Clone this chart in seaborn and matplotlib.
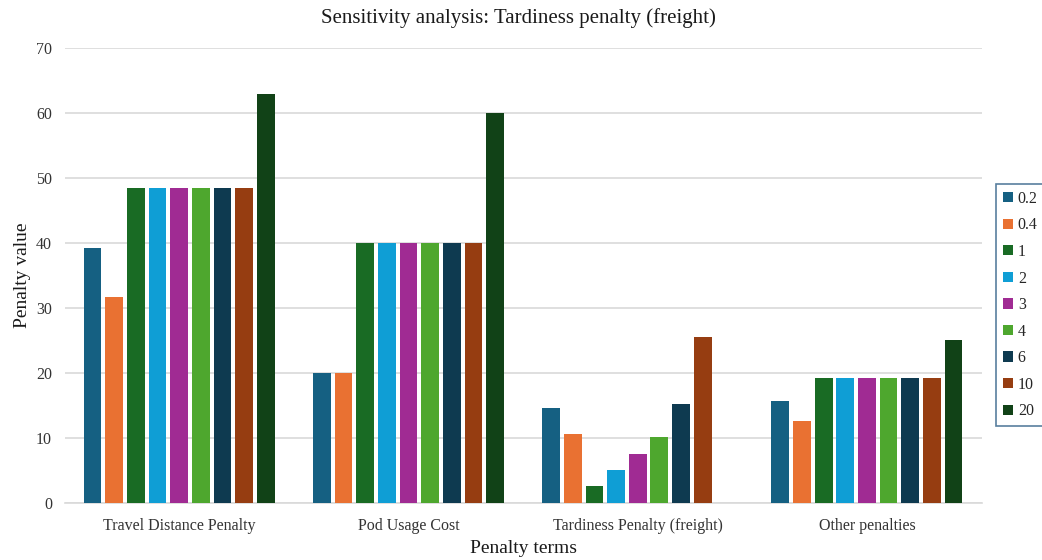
import numpy as np
import pandas as pd
import matplotlib
matplotlib.use("Agg")
import matplotlib.pyplot as plt
import seaborn as sns

# Penalty terms on the x axis
terms = ["Travel Distance Penalty", "Pod Usage Cost",
         "Tardiness Penalty (freight)", "Other penalties"]

# Tardiness-penalty weights (legend entries)
weights = ["0.2", "0.4", "1", "2", "3", "4", "6", "10", "20"]

# Penalty values per weight, one entry per term (NaN = not shown)
vals_0_2 = [39.3, 20.0, 14.6, 15.7]
vals_0_4 = [31.7, 20.0, 10.6, 12.6]
vals_1 = [48.4, 40.0, 2.6, 19.3]
vals_2 = [48.4, 40.0, 5.1, 19.3]
vals_3 = [48.4, 40.0, 7.6, 19.3]
vals_4 = [48.4, 40.0, 10.2, 19.3]
vals_6 = [48.4, 40.0, 15.2, 19.3]
vals_10 = [48.4, 40.0, 25.5, 19.3]
vals_20 = [62.9, 60.0, np.nan, 25.1]

series = [vals_0_2, vals_0_4, vals_1, vals_2, vals_3,
          vals_4, vals_6, vals_10, vals_20]

colors = ["#156082", "#E97132", "#196B24", "#0F9ED5", "#A02B93",
          "#4EA72E", "#0E3A50", "#963D11", "#114217"]

rows = []
for w, vals in zip(weights, series):
    for t, v in zip(terms, vals):
        if not np.isnan(v):
            rows.append({"term": t, "weight": w, "value": v})
df = pd.DataFrame(rows)

sns.set_theme(style="white")
plt.rcParams["font.family"] = ["Liberation Serif", "DejaVu Serif"]

fig = plt.figure(figsize=(10.42, 5.6), dpi=100)
ax = fig.add_axes([0.062, 0.102, 0.880, 0.812])

sns.barplot(data=df, x="term", y="value", hue="weight",
            order=terms, hue_order=weights, palette=colors,
            saturation=1, width=0.85, gap=0.18, errorbar=None, ax=ax,
            edgecolor="none", zorder=3)

ax.set_ylim(0, 70)
ax.set_yticks(range(0, 71, 10))
ax.set_xlim(-0.5, 3.5)
ax.yaxis.grid(True, color="#d9d9d9", linewidth=1.2, zorder=0)
ax.set_axisbelow(True)
for s in ["top", "right", "left"]:
    ax.spines[s].set_visible(False)
ax.spines["bottom"].set_color("#d9d9d9")
ax.spines["bottom"].set_linewidth(1.2)
ax.tick_params(axis="both", length=0, labelsize=11.5, colors="#333333")
ax.tick_params(axis="y", pad=9)
ax.tick_params(axis="x", pad=11)

fig.text(0.5 * (0.062 + 0.942) - 0.004, 1 - 18 / 560,
         "Sensitivity analysis: Tardiness penalty (freight)",
         fontsize=15, color="#1a1a1a", ha="center", va="center")
ax.set_xlabel("Penalty terms", fontsize=14, color="#1a1a1a", labelpad=4)
ax.set_ylabel("Penalty value", fontsize=14, color="#1a1a1a", labelpad=4)

handles, labels = ax.get_legend_handles_labels()
leg = ax.legend(handles, labels, loc="center left",
                bbox_to_anchor=(1.016, 0.435), frameon=True,
                fontsize=11.5, handlelength=0.6, handleheight=0.6,
                handletextpad=0.3, labelspacing=0.66,
                borderpad=0.45, borderaxespad=0, fancybox=False)
leg.get_frame().set_edgecolor("#2e5f86")
leg.get_frame().set_linewidth(1.2)

fig.savefig("out.png", dpi=100, facecolor="white")
